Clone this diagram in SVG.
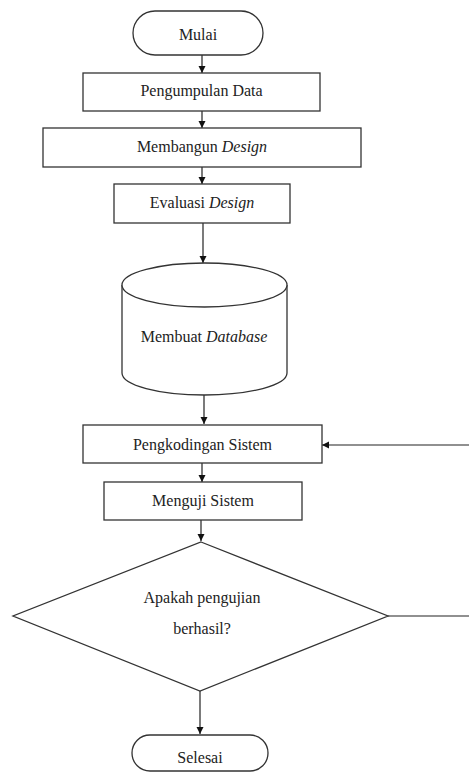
<svg xmlns="http://www.w3.org/2000/svg" width="469" height="778" viewBox="0 0 469 778">
<defs>
<style>
.s{fill:#fff;stroke:#333;stroke-width:1.3}
.c{fill:none;stroke:#222;stroke-width:1.2}
</style>
<marker id="ah" viewBox="0 0 10 10" refX="10" refY="5" markerWidth="7" markerHeight="8" markerUnits="userSpaceOnUse" orient="auto">
<path d="M0,0 L10,5 L0,10 z" fill="#111"/>
</marker>
</defs>
<rect width="469" height="778" fill="#fff"/>
<g id="connectors">
<line class="c" x1="202" y1="55" x2="202" y2="73" marker-end="url(#ah)"/>
<line class="c" x1="202" y1="111" x2="202" y2="128" marker-end="url(#ah)"/>
<line class="c" x1="202" y1="167" x2="202" y2="184" marker-end="url(#ah)"/>
<line class="c" x1="203" y1="223" x2="203" y2="263" marker-end="url(#ah)"/>
<line class="c" x1="204" y1="395" x2="204" y2="424" marker-end="url(#ah)"/>
<line class="c" x1="202" y1="463" x2="202" y2="482" marker-end="url(#ah)"/>
<line class="c" x1="201" y1="520" x2="201" y2="541" marker-end="url(#ah)"/>
<line class="c" x1="200" y1="691" x2="200" y2="734" marker-end="url(#ah)"/>
<line class="c" x1="388" y1="616" x2="469" y2="616"/>
<line class="c" x1="469" y1="445" x2="322" y2="445" marker-end="url(#ah)"/>
</g>
<g font-family="Liberation Serif" font-size="16" fill="#222" text-anchor="middle">
<g id="mulai">
<rect class="s" x="133" y="11" width="130" height="44" rx="22"/>
<text style="font-family:'Liberation Serif',serif" x="198" y="40">Mulai</text>
</g>
<g id="pengumpulan">
<rect class="s" x="83" y="73" width="237" height="38"/>
<text style="font-family:'Liberation Serif',serif" x="201.5" y="96">Pengumpulan Data</text>
</g>
<g id="membangun">
<rect class="s" x="43" y="128" width="318" height="39"/>
<text style="font-family:'Liberation Serif',serif" x="202" y="152">Membangun <tspan font-style="italic">Design</tspan></text>
</g>
<g id="evaluasi">
<rect class="s" x="114" y="184" width="176" height="39"/>
<text style="font-family:'Liberation Serif',serif" x="202" y="208">Evaluasi <tspan font-style="italic">Design</tspan></text>
</g>
<g id="database">
<path class="s" d="M122,285 A82.5,22 0 0 1 287,285 L287,373 A82.5,22 0 0 1 122,373 Z"/>
<path class="s" fill="none" d="M122,285 A82.5,22 0 0 0 287,285"/>
<text style="font-family:'Liberation Serif',serif" x="204" y="342">Membuat <tspan font-style="italic">Database</tspan></text>
</g>
<g id="pengkodingan">
<rect class="s" x="83" y="425" width="239" height="38"/>
<text style="font-family:'Liberation Serif',serif" x="202.5" y="450">Pengkodingan Sistem</text>
</g>
<g id="menguji">
<rect class="s" x="104" y="482" width="198" height="38"/>
<text style="font-family:'Liberation Serif',serif" x="203" y="506">Menguji Sistem</text>
</g>
<g id="keputusan">
<polygon class="s" points="201,542 388,616 200,691 13,616"/>
<text style="font-family:'Liberation Serif',serif" x="202" y="603">Apakah pengujian</text>
<text style="font-family:'Liberation Serif',serif" x="202" y="634">berhasil?</text>
</g>
<g id="selesai">
<rect class="s" x="132" y="735" width="136" height="36" rx="18"/>
<text style="font-family:'Liberation Serif',serif" x="200" y="763">Selesai</text>
</g>
</g>
</svg>
